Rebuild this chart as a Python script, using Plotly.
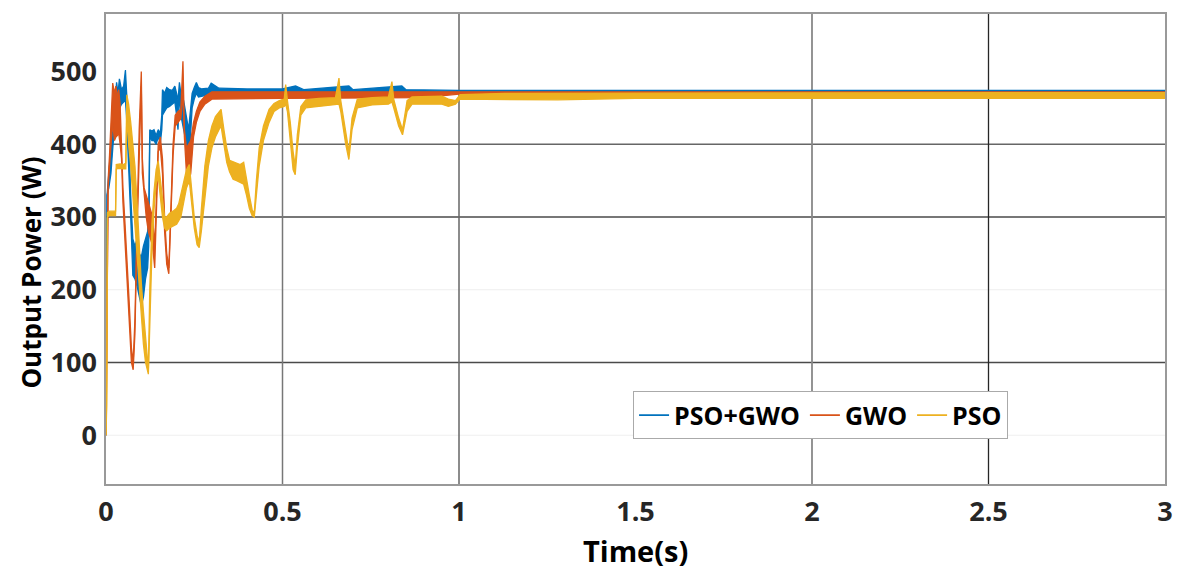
import plotly.graph_objects as go

# ---------------- data ----------------
# PSO+GWO (blue): time, upper and lower envelope of the ripple band (W)
t_hybrid = [0, 0.003, 0.008, 0.014, 0.020, 0.026, 0.030, 0.034, 0.038, 0.044,
            0.050, 0.055, 0.058, 0.064, 0.070, 0.076, 0.082, 0.088, 0.094, 0.100,
            0.106, 0.112, 0.118, 0.121, 0.124, 0.130, 0.136, 0.142, 0.148, 0.154,
            0.158, 0.160, 0.166, 0.172, 0.180, 0.188, 0.195, 0.200, 0.204, 0.208,
            0.212, 0.220, 0.228, 0.234, 0.238, 0.244, 0.250, 0.256, 0.262, 0.270,
            0.290, 0.298, 0.320, 0.400, 0.500, 0.537, 0.560, 0.688, 0.700, 0.838,
            0.850, 1.000, 3.000]
hybrid_hi = [0, 330, 360, 400, 420, 460, 485, 470, 490, 475,
             480, 502, 470, 420, 330, 270, 260, 270, 250, 245,
             260, 270, 280, 300, 420, 418, 420, 412, 420, 415,
             440, 475, 470, 478, 475, 474, 480, 470, 460, 485,
             470, 460, 440, 420, 440, 470, 478, 485, 478, 476,
             477, 484, 477, 476, 476, 480, 475, 480, 475, 480,
             475, 474, 474]
hybrid_lo = [0, 330, 340, 360, 400, 420, 440, 445, 450, 455,
             458, 460, 440, 380, 300, 220, 215, 205, 190, 178,
             190, 215, 230, 260, 410, 405, 405, 400, 410, 402,
             420, 440, 445, 450, 452, 455, 458, 440, 420, 470,
             440, 420, 400, 385, 400, 450, 462, 470, 465, 466,
             468, 468, 470, 470, 470, 470, 470, 470, 470, 470,
             471, 471, 471]

# GWO (orange)
t_gwo = [0, 0.002, 0.004, 0.006, 0.010, 0.014, 0.019, 0.024, 0.028, 0.032,
         0.036, 0.040, 0.044, 0.048, 0.054, 0.060, 0.066, 0.072, 0.077, 0.082,
         0.088, 0.094, 0.100, 0.103, 0.108, 0.114, 0.120, 0.126, 0.132, 0.138,
         0.142, 0.148, 0.154, 0.160, 0.166, 0.172, 0.178, 0.184, 0.190, 0.196,
         0.204, 0.212, 0.218, 0.222, 0.228, 0.234, 0.240, 0.248, 0.256, 0.266,
         0.280, 0.300, 0.500, 0.900, 1.000, 3.000]
gwo_hi = [0, 150, 160, 350, 385, 430, 484, 470, 480, 465,
          475, 455, 400, 340, 290, 240, 180, 120, 100, 160,
          300, 420, 500, 380, 340, 330, 320, 310, 300, 260,
          330, 400, 410, 380, 300, 250, 230, 330, 400, 440,
          445, 448, 514, 420, 395, 400, 405, 430, 445, 458,
          466, 472, 472, 472, 472, 472]
gwo_lo = [0, 150, 160, 340, 370, 400, 430, 405, 410, 412,
          415, 400, 380, 320, 260, 200, 150, 100, 90, 140,
          280, 400, 480, 360, 330, 300, 280, 270, 260, 230,
          310, 390, 395, 360, 280, 235, 222, 310, 385, 425,
          430, 435, 470, 410, 360, 345, 360, 410, 430, 445,
          455, 462, 463, 464, 469, 469]

# PSO (yellow)
t_pso = [0, 0.002, 0.004, 0.010, 0.020, 0.027, 0.029, 0.040, 0.050, 0.056,
         0.059, 0.064, 0.070, 0.076, 0.082, 0.088, 0.094, 0.100, 0.106, 0.112,
         0.117, 0.120, 0.124, 0.130, 0.136, 0.142, 0.148, 0.154, 0.160, 0.166,
         0.172, 0.180, 0.190, 0.200, 0.206, 0.212, 0.220, 0.228, 0.236, 0.242,
         0.250, 0.258, 0.264, 0.270, 0.280, 0.290, 0.300, 0.310, 0.320, 0.326,
         0.334, 0.342, 0.350, 0.360, 0.370, 0.380, 0.390, 0.398, 0.406, 0.414,
         0.420, 0.426, 0.434, 0.446, 0.462, 0.476, 0.491, 0.505, 0.509, 0.514,
         0.522, 0.530, 0.536, 0.542, 0.552, 0.566, 0.603, 0.650, 0.660, 0.665,
         0.679, 0.688, 0.697, 0.712, 0.754, 0.800, 0.810, 0.815, 0.829, 0.840,
         0.853, 0.867, 0.951, 0.970, 0.990, 1.003, 1.130, 1.280, 1.500, 3.000]
pso_hi = [0, 60, 306, 308, 308, 308, 372, 373, 372, 374,
          468, 455, 430, 400, 370, 320, 260, 210, 170, 130,
          100, 90, 200, 290, 335, 365, 377, 350, 320, 300,
          300, 305, 308, 312, 318, 330, 350, 365, 372, 340,
          300, 275, 265, 310, 370, 405, 425, 438, 445, 448,
          420, 395, 378, 376, 373, 372, 375, 350, 330, 310,
          305, 350, 395, 425, 448, 456, 460, 462, 482, 460,
          430, 390, 370, 413, 452, 461, 463, 464, 491, 460,
          420, 390, 436, 462, 464, 465, 486, 462, 436, 420,
          460, 465, 466, 462, 460, 468, 470, 470, 471, 471]
pso_lo = [0, 40, 300, 302, 302, 302, 366, 367, 366, 366,
          440, 400, 370, 330, 290, 250, 200, 160, 125, 100,
          88, 84, 150, 250, 310, 345, 355, 330, 300, 285,
          281, 285, 288, 290, 295, 300, 320, 340, 350, 320,
          285, 262, 258, 280, 330, 370, 395, 410, 420, 425,
          400, 375, 362, 352, 350, 348, 345, 330, 312, 302,
          300, 330, 370, 405, 430, 445, 450, 452, 455, 445,
          400, 365, 358, 395, 440, 450, 452, 454, 455, 445,
          400, 379, 420, 450, 454, 455, 458, 450, 425, 413,
          445, 455, 455, 452, 455, 462, 462, 461, 463, 463]

series_names = ["PSO+GWO", "GWO", "PSO"]
x_ticks = [0, 0.5, 1, 1.5, 2, 2.5, 3]
x_tick_labels = ["0", "0.5", "1", "1.5", "2", "2.5", "3"]
y_ticks = [0, 100, 200, 300, 400, 500]
y_tick_labels = ["0", "100", "200", "300", "400", "500"]

# ---------------- style ----------------
colors = ["#0072BD", "#D95319", "#EDB120"]
FONT = "Open Sans"

series = [
    (t_hybrid, hybrid_hi, hybrid_lo),
    (t_gwo, gwo_hi, gwo_lo),
    (t_pso, pso_hi, pso_lo),
]
for t, hi, lo in series:
    assert len(t) == len(hi) == len(lo)

fig = go.Figure()
for (t, hi, lo), name, c in zip(series, series_names, colors):
    fig.add_trace(go.Scatter(x=t, y=lo, mode="lines", line=dict(color=c, width=1.3),
                             showlegend=False, hoverinfo="skip"))
    fig.add_trace(go.Scatter(x=t, y=hi, mode="lines", line=dict(color=c, width=1.3),
                             fill="tonexty", fillcolor=c, showlegend=False, name=name))
# legend entries
for name, c in zip(series_names, colors):
    fig.add_trace(go.Scatter(x=[None], y=[None], mode="lines", name=name,
                             line=dict(color=c, width=1.6)))

# grid lines (styled individually as in the reference)
h_grid = [(0, "#efefef", 1), (100, "#4a4a4a", 1.5), (200, "#efefef", 1),
          (300, "#4a4a4a", 1.5), (400, "#666666", 1.5)]
v_grid = [(0.5, "#777777", 1.5), (1, "#666666", 1.5), (2, "#888888", 1.8),
          (2.5, "#262626", 1.3)]
for yv, col, w in h_grid:
    fig.add_shape(type="line", xref="paper", x0=0, x1=1, yref="y", y0=yv, y1=yv,
                  line=dict(color=col, width=w), layer="below")
for xv, col, w in v_grid:
    fig.add_shape(type="line", yref="paper", y0=0, y1=1, xref="x", x0=xv, x1=xv,
                  line=dict(color=col, width=w), layer="below")

tick_font = dict(family=FONT, size=27, color="#262626", weight="bold")
fig.update_xaxes(range=[0, 3], tickvals=x_ticks, ticktext=x_tick_labels,
                 showgrid=False, zeroline=False, showline=True, mirror=True,
                 linecolor="#999999", linewidth=1.5, ticks="outside", ticklen=3,
                 tickcolor="rgba(0,0,0,0)", tickfont=tick_font)
fig.update_yaxes(range=[-67, 579], tickvals=y_ticks, ticktext=y_tick_labels,
                 showgrid=False, zeroline=False, showline=True, mirror=True,
                 linecolor="#999999", linewidth=1.5, ticks="outside", ticklen=2,
                 tickcolor="rgba(0,0,0,0)", tickfont=tick_font)

fig.add_annotation(text="<b>Output Power (W)</b>", textangle=-90, xref="paper", yref="paper",
                   x=-0.0712, y=0.449, xanchor="center", yanchor="middle", showarrow=False,
                   font=dict(family=FONT, size=26, color="#000000"))
fig.add_annotation(text="<b>Time(s)</b>", xref="paper", yref="paper",
                   x=0.5, y=-0.142, xanchor="center", yanchor="middle", showarrow=False,
                   font=dict(family=FONT, size=29, color="#000000"))

fig.update_layout(
    width=1185, height=575,
    margin=dict(l=106, r=12, t=12, b=91),
    paper_bgcolor="white", plot_bgcolor="white",
    showlegend=True,
    legend=dict(orientation="h", x=0.4977, y=0.197, xanchor="left", yanchor="top",
                traceorder="normal",
                bgcolor="white", bordercolor="#aaaaaa", borderwidth=1,
                font=dict(family=FONT, size=25, color="#000000", weight="bold"),
                itemwidth=30, tracegroupgap=0),
)

fig.write_html("out.html")
